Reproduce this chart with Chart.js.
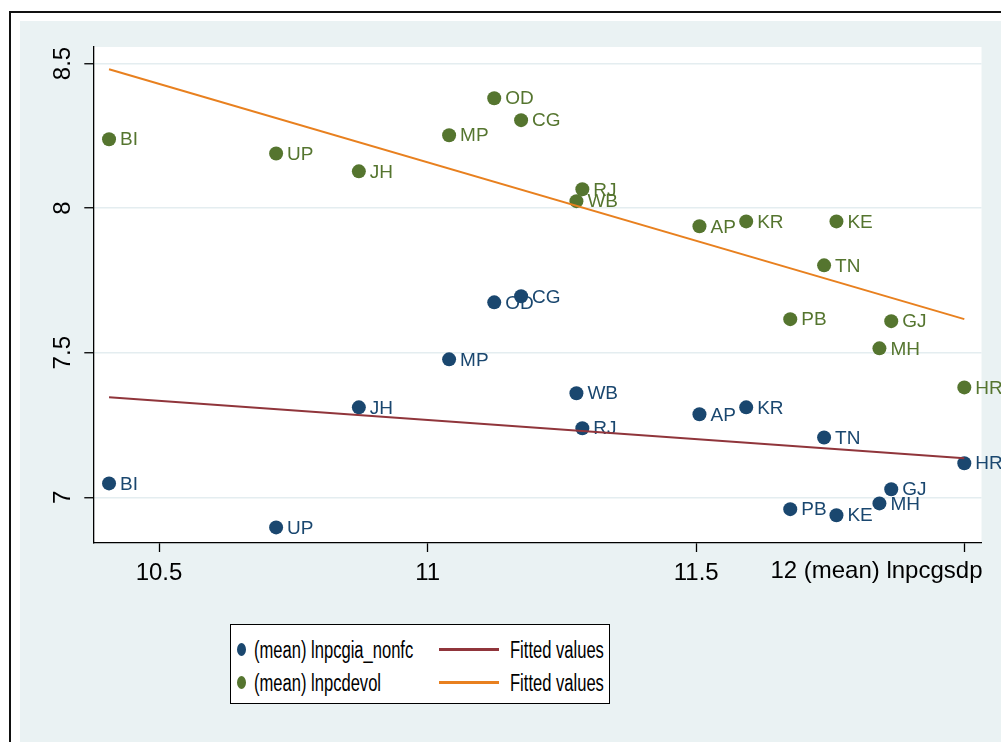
<!DOCTYPE html>
<html>
<head>
<meta charset="utf-8">
<script src="https://cdn.jsdelivr.net/npm/chart.js@4.4.1/dist/chart.umd.min.js"></script>
<style>
  body { margin: 0; background: #fff; width: 1001px; height: 742px; overflow: hidden; position: relative; font-family: "Liberation Sans", Arial, sans-serif; }
  #frame { position: absolute; left: 9px; top: 11px; width: 1100px; height: 800px; border: 2px solid #111; box-sizing: border-box; }
  #panel { position: absolute; left: 20px; top: 21px; width: 981px; height: 721px; background: #eaf2f3; }
  #panel canvas { position: absolute; left: 0; top: 0; }
  #legend { position: absolute; left: 230px; top: 624px; width: 380px; height: 80px; box-sizing: border-box; border: 1px solid #000; background: #fff; }
  #legend .mk { position: absolute; width: 9px; height: 13px; border-radius: 50%; }
  #legend .ln { position: absolute; width: 60px; height: 2.5px; }
  #legend .tx { position: absolute; font-size: 23px; line-height: 22px; white-space: nowrap; color: #000; transform: scaleX(0.72); transform-origin: left center; }
</style>
</head>
<body>
<div id="frame"></div>
<div id="panel"><canvas id="chart" width="981" height="721"></canvas></div>
<div id="legend"></div>
<script>
// state codes and their means
const states = ['BI', 'UP', 'JH', 'MP', 'OD', 'CG', 'RJ', 'WB', 'AP', 'KR', 'KE', 'TN', 'PB', 'GJ', 'MH', 'HR'];
const lnpcgsdp = [10.407, 10.718, 10.872, 11.040, 11.124, 11.174, 11.288, 11.277, 11.506, 11.593, 11.761, 11.738, 11.675, 11.863, 11.841, 11.999];
const lnpcgiaNonfc = [7.048, 6.896, 7.311, 7.477, 7.674, 7.695, 7.239, 7.360, 7.287, 7.311, 6.938, 7.207, 6.959, 7.028, 6.979, 7.118];
const lnpcdevol = [8.238, 8.189, 8.127, 8.252, 8.380, 8.304, 8.065, 8.024, 7.937, 7.954, 7.954, 7.802, 7.616, 7.609, 7.515, 7.380];

// fitted lines, two ends each
const fitX = [10.407, 11.999];
const fitNonfc = [7.346, 7.135];
const fitDevol = [8.480, 7.616];

const xTicks = [10.5, 11, 11.5, 12];
const xTickLabels = ['10.5', '11', '11.5', '12'];
const yTicks = [7, 7.5, 8, 8.5];
const yTickLabels = ['7', '7.5', '8', '8.5'];
const xTitle = '(mean) lnpcgsdp';
const seriesNames = ['(mean) lnpcgia_nonfc', '(mean) lnpcdevol', 'Fitted values', 'Fitted values'];

const navy = '#1a476f';
const green = '#55752f';
const maroon = '#90353b';
const orange = '#e8801f';
const gridCol = '#e4edf0';
const FONT = '"Liberation Sans", Arial, sans-serif';

const pts = (xs, ys) => xs.map((x, i) => ({ x: x, y: ys[i] }));

const plotBg = {
  id: 'plotBg',
  beforeDraw(chart) {
    const { ctx, chartArea: a } = chart;
    ctx.save();
    ctx.fillStyle = '#fff';
    ctx.fillRect(a.left, a.top, a.right - a.left, a.bottom - a.top);
    ctx.restore();
  }
};

const pointLabels = {
  id: 'pointLabels',
  afterDatasetDraw(chart, args) {
    const ds = chart.data.datasets[args.index];
    if (!ds.codes) return;
    const ctx = chart.ctx;
    ctx.save();
    ctx.font = '19px ' + FONT;
    ctx.fillStyle = ds.backgroundColor;
    ctx.textAlign = 'left';
    ctx.textBaseline = 'middle';
    args.meta.data.forEach((el, i) => {
      ctx.fillText(ds.codes[i], el.x + 11, el.y + 1);
    });
    ctx.restore();
  }
};

const xAxisTitle = {
  id: 'xAxisTitle',
  afterDraw(chart) {
    const { ctx, chartArea: a } = chart;
    const sx = chart.scales.x;
    ctx.save();
    ctx.font = '24px ' + FONT;
    ctx.fillStyle = '#000';
    ctx.textAlign = 'right';
    ctx.textBaseline = 'top';
    ctx.fillText(xTickLabels[3] + ' ' + xTitle, a.right + 1, sx.top + 9 + 7);
    ctx.restore();
  }
};

new Chart(document.getElementById('chart'), {
  type: 'scatter',
  data: {
    datasets: [
      {
        label: seriesNames[0], codes: states, data: pts(lnpcgsdp, lnpcgiaNonfc),
        backgroundColor: navy, borderColor: navy, pointRadius: 7, pointBorderWidth: 0, order: 2
      },
      {
        label: seriesNames[1], codes: states, data: pts(lnpcgsdp, lnpcdevol),
        backgroundColor: green, borderColor: green, pointRadius: 7, pointBorderWidth: 0, order: 3
      },
      {
        type: 'line', label: seriesNames[2], data: pts(fitX, fitNonfc),
        borderColor: maroon, borderWidth: 2, pointRadius: 0, fill: false, order: 1
      },
      {
        type: 'line', label: seriesNames[3], data: pts(fitX, fitDevol),
        borderColor: orange, borderWidth: 2, pointRadius: 0, fill: false, order: 0
      }
    ]
  },
  options: {
    responsive: false,
    animation: false,
    events: [],
    layout: { padding: { left: 0, top: 26, right: 19.5, bottom: 139 } },
    plugins: { legend: { display: false }, tooltip: { enabled: false } },
    scales: {
      x: {
        type: 'linear', min: 10.3777, max: 12.031,
        afterBuildTicks: s => { s.ticks = xTicks.map(v => ({ value: v })); },
        afterFit: s => { s.height = 60; },
        grid: { drawOnChartArea: false, tickLength: 9, tickColor: '#000', tickWidth: 1.3 },
        border: { color: '#000', width: 1.3 },
        ticks: {
          color: '#000', font: { family: FONT, size: 24 }, padding: 7, maxRotation: 0,
          callback: (v) => { const i = xTicks.indexOf(v); return i === 3 ? '' : xTickLabels[i]; }
        }
      },
      y: {
        type: 'linear', min: 6.842, max: 8.557,
        afterBuildTicks: s => { s.ticks = yTicks.map(v => ({ value: v })); },
        afterFit: s => { s.width = 73.3; },
        grid: { color: gridCol, lineWidth: 1.5, tickLength: 9, tickColor: '#000', tickWidth: 1.3 },
        border: { color: '#000', width: 1.3 },
        ticks: {
          color: '#000', font: { family: FONT, size: 24 }, padding: 4,
          minRotation: 90, maxRotation: 90, crossAlign: 'center',
          callback: (v) => yTickLabels[yTicks.indexOf(v)]
        }
      }
    }
  },
  plugins: [plotBg, pointLabels, xAxisTitle]
});

// legend box, built from the series names
const legend = document.getElementById('legend');
const rows = [25, 58];
[[navy, seriesNames[0]], [green, seriesNames[1]]].forEach(([c, t], r) => {
  legend.insertAdjacentHTML('beforeend',
    `<div class="mk" style="left:6px;top:${rows[r] - 7}px;background:${c}"></div>` +
    `<div class="tx" style="left:23px;top:${rows[r] - 11}px">${t}</div>`);
});
[[maroon, seriesNames[2]], [orange, seriesNames[3]]].forEach(([c, t], r) => {
  legend.insertAdjacentHTML('beforeend',
    `<div class="ln" style="left:208px;top:${rows[r] - 2}px;background:${c}"></div>` +
    `<div class="tx" style="left:279px;top:${rows[r] - 11}px">${t}</div>`);
});
</script>
</body>
</html>
